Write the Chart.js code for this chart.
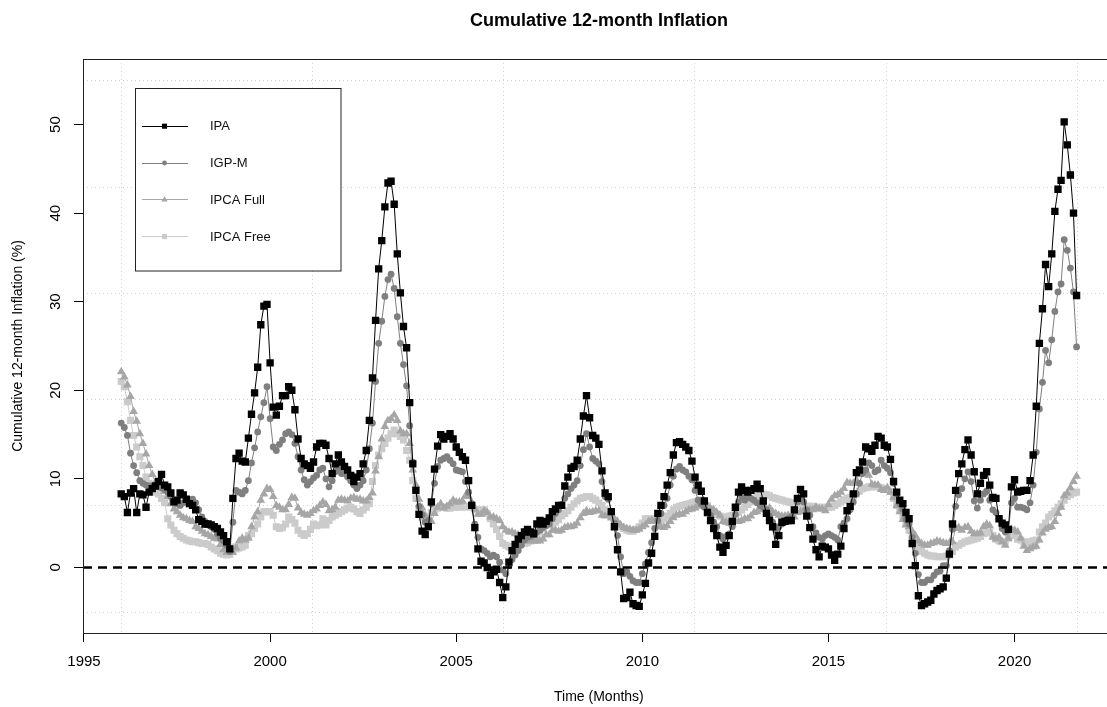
<!DOCTYPE html>
<html>
<head>
<meta charset="utf-8">
<title>Cumulative 12-month Inflation</title>
<script src="https://cdn.jsdelivr.net/npm/chart.js@4"></script>
<style>
  html, body { margin: 0; padding: 0; background: #fff; overflow: hidden; }
  #wrap { position: relative; width: 1120px; height: 707px; }
</style>
</head>
<body>
<div id="wrap"><canvas id="chart" width="1120" height="707"></canvas></div>
<script>
/* Cumulative 12-month inflation, monthly Jan 1996 - Sep 2021 */

var START_YEAR = 1996;
var seriesNames = ["IPA", "IGP-M", "IPCA Full", "IPCA Free"];

var ipa = [
	8.3, 8.0, 6.2, 8.4, 8.9, 6.2, 8.3, 8.2, 6.8, 8.5, 8.9, 9.2,
	9.7, 10.5, 9.3, 9.1, 8.4, 7.4, 7.6, 8.4, 8.2, 7.7, 7.2, 7.0,
	6.5, 5.4, 5.2, 4.9, 4.9, 4.8, 4.6, 4.4, 4.0, 3.6, 2.9, 2.1,
	7.8, 12.3, 12.9, 12.0, 11.9, 14.6, 17.3, 19.7, 22.6, 27.4, 29.5, 29.7,
	23.1, 18.1, 17.2, 18.2, 19.4, 19.4, 20.4, 20.0, 17.8, 14.5, 12.3, 11.7,
	11.5, 11.2, 11.9, 13.6, 14.0, 14.0, 13.8, 12.3, 10.6, 11.7, 12.7, 11.9,
	11.4, 11.0, 10.4, 9.7, 10.2, 10.6, 11.7, 13.2, 16.6, 21.4, 27.9, 33.7,
	36.9, 40.7, 43.4, 43.6, 41.0, 35.4, 31.0, 27.2, 24.8, 18.6, 11.7, 8.7,
	6.0, 4.1, 3.7, 4.6, 7.4, 11.1, 13.7, 15.0, 14.5, 14.8, 15.1, 14.5,
	13.6, 13.0, 12.5, 12.1, 9.8, 7.0, 4.5, 2.1, 0.7, 0.5, 0.0, -0.9,
	-0.5, -0.2, -1.7, -3.4, -2.2, 0.6, 1.9, 2.6, 3.2, 3.6, 4.0, 4.3,
	4.0, 3.8, 4.9, 5.3, 4.9, 5.2, 5.6, 6.3, 6.6, 7.0, 7.0, 9.2,
	10.2, 11.2, 11.4, 12.1, 14.5, 17.1, 19.4, 16.9, 14.9, 14.6, 13.9, 10.9,
	8.4, 8.0, 6.3, 4.6, 2.0, -0.5, -3.5, -3.4, -2.8, -4.1, -4.3, -4.4,
	-3.1, -1.8, 0.5, 1.6, 3.5, 6.1, 7.0, 8.0, 9.3, 10.7, 12.7, 14.1,
	14.2, 13.9, 13.6, 13.2, 12.0, 10.2, 9.3, 8.6, 7.5, 6.2, 5.3, 4.4,
	3.6, 2.3, 1.7, 2.5, 3.6, 5.2, 6.8, 8.5, 9.1, 8.7, 8.5, 8.7,
	8.9, 9.4, 8.9, 7.5, 6.1, 5.3, 4.6, 2.6, 3.6, 5.1, 5.2, 5.3,
	5.3, 6.5, 7.8, 8.8, 8.3, 5.8, 4.5, 3.2, 2.0, 1.2, 2.4, 2.3,
	2.1, 1.4, 0.8, 1.5, 2.4, 4.4, 6.4, 6.9, 8.3, 10.7, 11.0, 11.9,
	13.6, 13.4, 13.1, 13.8, 14.8, 14.6, 13.8, 13.6, 12.2, 9.7, 8.5, 7.6,
	7.2, 6.2, 5.5, 2.7, 0.2, -3.2, -4.3, -4.1, -3.9, -3.7, -3.0, -2.6,
	-2.4, -2.2, -1.2, 1.5, 4.9, 8.7, 10.6, 11.7, 13.3, 14.4, 12.7, 10.8,
	8.3, 9.5, 10.4, 10.8, 9.3, 7.9, 7.8, 5.5, 5.0, 4.8, 4.3, 9.1,
	9.9, 8.5, 8.6, 8.7, 8.7, 9.8, 12.7, 18.2, 25.3, 29.2, 34.2, 31.7,
	35.4, 40.2, 42.7, 43.7, 50.3, 47.7, 44.3, 40.0, 30.7
];

var igpm = [
	16.3, 15.8, 14.9, 12.9, 11.5, 10.7, 9.8, 9.5, 9.3, 9.2, 9.0, 9.2,
	9.2, 9.0, 8.8, 8.5, 8.0, 7.6, 7.2, 7.0, 7.3, 7.6, 7.4, 7.7,
	7.3, 6.5, 5.7, 5.2, 4.9, 4.6, 4.3, 3.8, 3.3, 3.0, 2.5, 1.8,
	5.1, 8.7, 8.5, 8.3, 8.7, 9.8, 11.8, 13.5, 15.3, 17.0, 18.6, 20.4,
	16.8, 13.6, 13.2, 13.9, 14.4, 15.1, 15.3, 15.0, 14.0, 12.5, 11.0, 9.9,
	9.3, 9.7, 10.1, 10.4, 11.0, 11.2, 10.0, 9.1, 9.8, 10.8, 11.2, 10.6,
	10.6, 10.2, 9.8, 9.3, 8.9, 9.3, 9.8, 11.0, 13.4, 16.3, 21.0, 25.3,
	27.8, 30.6, 32.5, 33.1, 31.5, 28.3, 25.3, 22.9, 20.5, 16.0, 11.9, 8.7,
	6.9, 5.9, 5.1, 5.3, 7.2, 9.5, 11.4, 12.1, 12.3, 12.5, 12.1, 11.7,
	11.0, 10.9, 10.8, 9.7, 8.5, 7.2, 4.9, 3.4, 2.1, 1.9, 1.6, 1.2,
	1.4, 1.2, 0.6, -0.3, -0.7, 0.2, 0.9, 1.4, 1.9, 2.5, 3.1, 3.4,
	3.5, 3.7, 4.0, 4.2, 4.5, 4.7, 4.9, 5.5, 6.1, 6.5, 7.1, 7.8,
	8.3, 8.9, 9.3, 9.8, 11.5, 13.3, 15.1, 13.6, 12.3, 12.0, 11.7, 9.7,
	8.0, 7.7, 6.3, 5.0, 3.6, 1.2, -0.7, -0.5, -1.0, -1.5, -1.7, -1.7,
	-0.7, 0.4, 1.7, 2.8, 4.4, 5.3, 6.1, 7.0, 7.8, 9.3, 10.3, 11.1,
	11.4, 11.0, 10.8, 10.3, 9.9, 8.7, 7.6, 7.2, 6.8, 6.3, 5.9, 5.1,
	4.6, 3.6, 3.2, 3.5, 3.8, 4.6, 6.0, 7.4, 8.0, 7.6, 8.0, 7.8,
	7.6, 7.3, 7.0, 6.8, 6.5, 5.8, 5.1, 4.2, 4.6, 4.9, 5.3, 5.5,
	5.7, 6.5, 7.4, 7.8, 7.4, 6.5, 5.9, 4.6, 3.9, 3.4, 3.2, 3.6,
	3.8, 3.6, 3.4, 3.1, 4.6, 5.0, 5.5, 6.5, 7.4, 8.3, 9.5, 10.6,
	11.0, 11.8, 11.5, 10.8, 11.0, 12.1, 11.5, 11.2, 10.7, 9.5, 8.3, 7.2,
	6.6, 5.4, 4.9, 3.4, 1.6, -0.8, -1.7, -1.7, -1.4, -1.4, -0.9, -0.5,
	-0.4, 0.2, 0.2, 1.9, 4.3, 6.9, 8.2, 8.9, 10.0, 10.8, 9.7, 7.5,
	6.7, 7.6, 8.3, 8.6, 7.6, 6.5, 6.2, 5.5, 4.4, 4.0, 4.2, 7.3,
	7.8, 6.8, 6.8, 6.7, 6.5, 7.3, 9.3, 13.0, 17.9, 20.9, 24.5, 23.1,
	25.7, 28.9, 31.1, 32.0, 37.0, 35.8, 33.8, 31.1, 24.9
];

var ipcaFull = [
	22.1, 21.5, 20.6, 19.3, 17.6, 16.5, 15.1, 14.0, 12.8, 11.5, 10.5, 9.6,
	9.3, 9.0, 8.6, 8.0, 7.2, 6.6, 6.3, 5.9, 5.6, 5.5, 5.3, 5.2,
	4.6, 4.4, 4.1, 3.8, 3.7, 3.5, 3.3, 3.2, 2.6, 2.0, 1.7, 1.7,
	1.7, 2.2, 3.0, 3.3, 3.1, 3.3, 4.6, 5.7, 6.3, 7.6, 8.3, 8.9,
	8.8, 8.0, 7.0, 6.8, 6.5, 6.5, 7.1, 7.9, 7.8, 6.7, 6.2, 6.0,
	5.9, 6.1, 6.4, 6.6, 7.0, 7.4, 7.1, 6.4, 6.5, 6.8, 7.6, 7.7,
	7.6, 7.5, 7.8, 7.9, 7.7, 7.7, 7.5, 7.5, 7.9, 8.4, 10.9, 12.5,
	14.5, 15.9, 16.6, 16.8, 17.2, 16.6, 15.4, 15.1, 15.1, 14.0, 11.0, 9.3,
	7.7, 6.7, 5.9, 5.3, 5.2, 6.1, 6.8, 7.2, 6.7, 6.9, 7.2, 7.6,
	7.4, 7.4, 7.5, 8.1, 8.0, 7.3, 6.6, 6.0, 6.0, 6.4, 6.2, 5.7,
	5.7, 5.5, 5.3, 4.6, 4.2, 4.0, 4.0, 3.8, 3.7, 3.3, 3.0, 3.1,
	3.0, 3.0, 3.0, 3.0, 3.2, 3.7, 3.7, 4.2, 4.2, 4.1, 4.2, 4.5,
	4.6, 4.6, 4.7, 5.0, 5.6, 6.1, 6.4, 6.2, 6.3, 6.4, 6.4, 5.9,
	5.8, 5.9, 5.6, 5.5, 5.2, 4.8, 4.5, 4.4, 4.3, 4.2, 4.2, 4.3,
	4.6, 4.8, 5.2, 5.3, 5.2, 4.8, 4.6, 4.5, 4.7, 5.2, 5.6, 5.9,
	6.0, 6.0, 6.3, 6.5, 6.6, 6.7, 6.9, 7.2, 7.3, 7.0, 6.6, 6.5,
	6.2, 5.9, 5.2, 5.1, 5.0, 4.9, 5.2, 5.2, 5.3, 5.5, 5.5, 5.8,
	6.2, 6.3, 6.6, 6.5, 6.5, 6.7, 6.3, 6.1, 5.9, 5.8, 5.8, 5.9,
	5.6, 5.7, 6.2, 6.3, 6.4, 6.5, 6.5, 6.5, 6.8, 6.6, 6.6, 6.4,
	7.1, 7.7, 8.1, 8.2, 8.5, 8.9, 9.6, 9.5, 9.5, 9.9, 10.5, 10.7,
	10.7, 10.4, 9.4, 9.3, 9.3, 8.8, 8.7, 9.0, 8.5, 7.9, 7.0, 6.3,
	5.4, 4.8, 4.6, 4.1, 3.6, 3.0, 2.7, 2.5, 2.5, 2.7, 2.8, 3.0,
	2.9, 2.8, 2.7, 2.8, 2.9, 4.4, 4.5, 4.2, 4.5, 4.6, 4.1, 3.8,
	3.8, 3.9, 4.6, 4.9, 4.7, 3.4, 3.2, 3.4, 2.9, 2.5, 3.3, 4.3,
	4.2, 4.0, 3.3, 2.4, 1.9, 2.1, 2.3, 2.4, 3.1, 3.9, 4.3, 4.5,
	4.6, 5.2, 6.1, 6.8, 8.1, 8.4, 9.0, 9.7, 10.3
];

var ipcaFree = [
	21.0, 20.4, 18.7, 16.6, 14.9, 13.6, 12.5, 11.5, 10.2, 9.5, 9.1, 8.5,
	8.3, 7.8, 7.3, 5.5, 4.8, 4.2, 3.8, 3.5, 3.3, 3.1, 3.0, 2.9,
	2.9, 2.8, 2.7, 2.7, 2.6, 2.3, 2.1, 1.9, 1.6, 1.5, 1.4, 1.5,
	2.3, 2.1, 2.2, 2.3, 2.5, 3.6, 3.8, 4.4, 4.9, 5.7, 6.3, 6.3,
	6.3, 5.9, 4.6, 4.4, 4.5, 4.9, 5.7, 5.4, 5.0, 4.2, 3.8, 3.6,
	3.8, 4.3, 4.9, 4.7, 4.8, 5.5, 4.8, 5.3, 5.7, 5.9, 6.1, 6.3,
	6.5, 6.7, 6.8, 6.6, 6.3, 6.1, 6.5, 6.8, 7.2, 9.7, 11.5, 12.7,
	13.4, 14.0, 14.6, 15.1, 15.5, 15.1, 14.8, 14.4, 13.2, 12.1, 9.8, 7.8,
	6.5, 5.7, 5.6, 5.7, 6.2, 6.5, 6.7, 6.8, 6.8, 6.7, 6.7, 6.8,
	6.8, 6.8, 6.9, 6.8, 6.9, 6.8, 6.6, 6.5, 6.3, 6.5, 6.1, 5.5,
	4.9, 4.3, 3.5, 2.7, 2.5, 2.3, 2.4, 2.6, 2.7, 2.7, 2.7, 2.8,
	3.0, 3.2, 3.6, 4.0, 4.4, 4.8, 4.9, 5.0, 5.1, 5.4, 5.8, 6.1,
	6.4, 6.8, 7.2, 7.5, 7.8, 7.9, 8.0, 8.0, 7.8, 7.6, 7.3, 7.0,
	6.5, 6.1, 5.7, 5.3, 4.9, 4.6, 4.4, 4.2, 4.1, 4.1, 4.3, 4.6,
	5.0, 5.5, 5.5, 5.5, 5.5, 5.4, 5.3, 5.5, 5.8, 6.1, 6.5, 6.8,
	6.9, 7.0, 7.1, 7.2, 7.3, 7.4, 7.5, 7.6, 7.4, 7.0, 6.6, 6.3,
	6.0, 5.8, 5.7, 5.7, 5.8, 5.9, 6.0, 6.2, 6.5, 6.8, 7.1, 7.4,
	7.7, 8.0, 8.3, 8.3, 8.2, 8.1, 7.9, 7.8, 7.7, 7.6, 7.5, 7.4,
	7.3, 7.2, 7.1, 7.0, 7.0, 6.9, 6.9, 6.9, 6.8, 6.8, 6.8, 6.8,
	6.8, 6.8, 7.0, 7.2, 7.4, 7.6, 7.8, 7.9, 8.1, 8.3, 8.6, 8.9,
	9.0, 9.1, 9.1, 9.2, 9.1, 9.0, 8.9, 8.8, 8.6, 7.8, 7.0, 6.5,
	5.8, 5.0, 4.2, 3.5, 2.8, 2.1, 1.8, 1.6, 1.4, 1.3, 1.3, 1.2,
	1.2, 1.2, 1.3, 1.4, 1.8, 2.3, 2.5, 2.7, 2.9, 3.0, 3.1, 3.2,
	3.3, 3.5, 3.8, 3.9, 4.0, 3.6, 3.2, 3.0, 2.9, 2.9, 3.3, 3.8,
	3.6, 3.2, 3.1, 2.9, 2.8, 2.9, 3.0, 3.1, 4.0, 4.6, 5.0, 5.7,
	6.0, 6.4, 6.8, 7.2, 7.6, 8.0, 8.2, 8.4, 8.5
];

var xTicks = [1995, 2000, 2005, 2010, 2015, 2020];
var yTicks = [0, 10, 20, 30, 40, 50];

(function () {
	"use strict";

	var FONT = "'Liberation Sans', Arial, Helvetica, sans-serif";

	/* R-style axis ranges: data range padded by 4% on each side */
	var xFirst = START_YEAR, xLast = START_YEAR + (ipa.length - 1) / 12;
	var xPad = (xLast - xFirst) * 0.04;
	var yLo = -5, yHi = 55, yPad = (yHi - yLo) * 0.04;

	function toPoints(values) {
		return values.map(function (v, i) { return { x: START_YEAR + i / 12, y: v }; });
	}

	function series(label, values, color, style, radius) {
		return {
			label: label,
			data: toPoints(values),
			borderColor: color,
			backgroundColor: color,
			borderWidth: 1,
			pointStyle: style,
			pointRadius: radius,
			pointBackgroundColor: color,
			pointBorderColor: color,
			pointBorderWidth: 0,
			tension: 0,
		};
	}

	var datasets = [
		series(seriesNames[0], ipa, "#000000", "rect", 5.2),
		series(seriesNames[1], igpm, "#7f7f7f", "circle", 3.4),
		series(seriesNames[2], ipcaFull, "#a6a6a6", "triangle", 5),
		series(seriesNames[3], ipcaFree, "#cbcbcb", "rect", 5),
	];

	/* dotted grid: 5 equal cells across the data range (like R's grid()) */
	var gridPlugin = {
		id: "rgrid",
		beforeDatasetsDraw: function (chart) {
			var ctx = chart.ctx, a = chart.chartArea;
			var sx = chart.scales.x, sy = chart.scales.y;
			ctx.save();
			ctx.strokeStyle = "#d3d3d3";
			ctx.lineWidth = 1;
			ctx.setLineDash([1, 3]);
			for (var k = 0; k <= 5; k++) {
				var px = Math.round(sx.getPixelForValue(xFirst + k * (xLast - xFirst) / 5)) + 0.5;
				ctx.beginPath(); ctx.moveTo(px, a.top); ctx.lineTo(px, a.bottom); ctx.stroke();
				var py = Math.round(sy.getPixelForValue(yLo + k * (yHi - yLo) / 5)) + 0.5;
				ctx.beginPath(); ctx.moveTo(a.left, py); ctx.lineTo(a.right, py); ctx.stroke();
			}
			ctx.restore();
		},
	};

	/* zero line, plot frame, rotated y labels, legend */
	var decorPlugin = {
		id: "rdecor",
		afterDatasetsDraw: function (chart) {
			var ctx = chart.ctx, a = chart.chartArea;
			var sy = chart.scales.y;
			ctx.save();
			var y0 = sy.getPixelForValue(0);
			ctx.strokeStyle = "#000";
			ctx.lineWidth = 2.5;
			ctx.setLineDash([9, 6]);
			ctx.beginPath(); ctx.moveTo(a.left, y0); ctx.lineTo(a.right, y0); ctx.stroke();
			ctx.setLineDash([]);

			ctx.lineWidth = 1;
			ctx.strokeStyle = "#222";
			ctx.strokeRect(Math.round(a.left) + 0.5, Math.round(a.top) + 0.5,
				a.right - a.left, Math.round(a.bottom - a.top));

			ctx.fillStyle = "#000";
			ctx.font = "15px " + FONT;
			ctx.textAlign = "center";
			ctx.textBaseline = "middle";
			sy.ticks.forEach(function (t) {
				ctx.save();
				ctx.translate(56, sy.getPixelForValue(t.value));
				ctx.rotate(-Math.PI / 2);
				ctx.fillText(String(t.value), 0, 0);
				ctx.restore();
			});

			/* legend box */
			var lx = 135.5, ly = 88.5, lw = 205.5, lh = 182.5;
			ctx.fillStyle = "#fff";
			ctx.fillRect(lx, ly, lw, lh);
			ctx.strokeStyle = "#222";
			ctx.strokeRect(lx, ly, lw, lh);
			ctx.font = "13px " + FONT;
			ctx.textAlign = "left";
			chart.data.datasets.forEach(function (ds, i) {
				var ey = 125.7 + i * 36.8;
				ctx.strokeStyle = ds.borderColor;
				ctx.lineWidth = 1;
				ctx.beginPath(); ctx.moveTo(142, Math.round(ey) + 0.5); ctx.lineTo(188, Math.round(ey) + 0.5); ctx.stroke();
				ctx.fillStyle = ds.pointBackgroundColor;
				ctx.strokeStyle = ds.pointBackgroundColor;
				var r = ds.pointStyle === "circle" ? 2.4 : 3.6;
				Chart.helpers.drawPoint(ctx, { pointStyle: ds.pointStyle, radius: r, borderWidth: 0 }, 164.5, ey + 0.5);
				ctx.fillStyle = "#111";
				ctx.fillText(ds.label, 210, ey + 1);
			});
			ctx.restore();
		},
	};

	new Chart(document.getElementById("chart"), {
		type: "line",
		data: { datasets: datasets },
		plugins: [gridPlugin, decorPlugin],
		options: {
			responsive: false,
			animation: false,
			events: [],
			parsing: false,
			layout: { padding: { top: 0, left: 0, right: 2.5, bottom: 0 } },
			plugins: {
				legend: { display: false },
				tooltip: { enabled: false },
				title: {
					display: true,
					text: "Cumulative 12-month Inflation",
					fullSize: false,
					color: "#000",
					font: { family: FONT, size: 18, weight: "bold" },
					padding: { top: 10, bottom: 27.4 },
				},
			},
			scales: {
				x: {
					type: "linear",
					min: xFirst - xPad,
					max: xLast + xPad,
					border: { display: false },
					grid: { drawOnChartArea: false, drawTicks: true, tickLength: 9, tickColor: "#000" },
					afterBuildTicks: function (s) { s.ticks = xTicks.map(function (v) { return { value: v }; }); },
					ticks: {
						autoSkip: false, maxRotation: 0, minRotation: 0, color: "#000", padding: 11,
						font: { family: FONT, size: 15 },
						callback: function (v) { return String(v); },
					},
					title: {
						display: true, text: "Time (Months)", color: "#000",
						font: { family: FONT, size: 14 }, padding: { top: 0, bottom: 1.6 },
					},
					afterFit: function (s) { s.height = 74; },
				},
				y: {
					type: "linear",
					min: yLo - yPad,
					max: yHi + yPad,
					border: { display: false },
					grid: { drawOnChartArea: false, drawTicks: true, tickLength: 9, tickColor: "#000" },
					afterBuildTicks: function (s) { s.ticks = yTicks.map(function (v) { return { value: v }; }); },
					ticks: { display: false },
					title: {
						display: true, text: "Cumulative 12-month Inflation (%)", color: "#000",
						font: { family: FONT, size: 14 }, padding: { top: 9.6, bottom: 0 },
					},
					afterFit: function (s) { s.width = 83; },
				},
			},
		},
	});
})();
</script>
</body>
</html>
